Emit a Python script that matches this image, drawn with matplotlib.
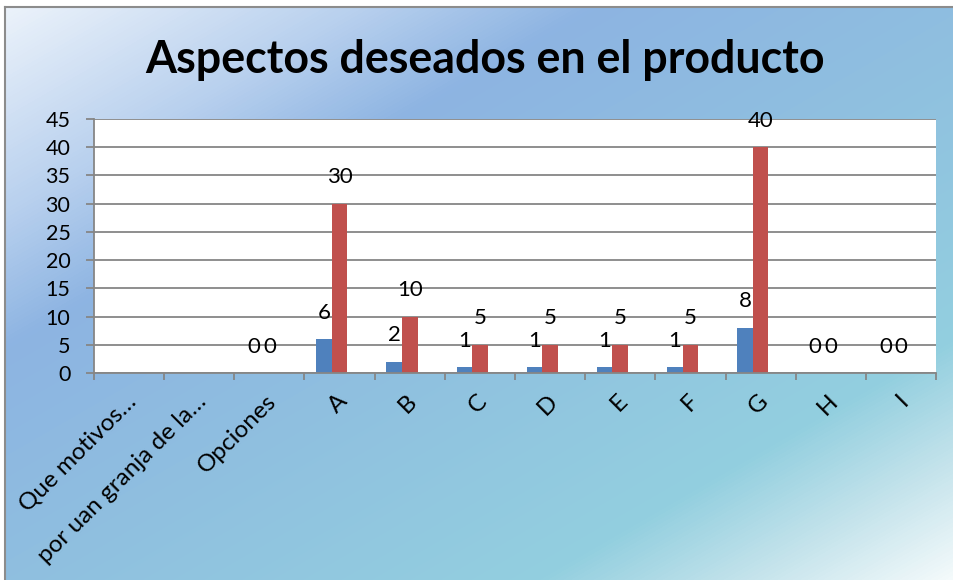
import numpy as np
import matplotlib
matplotlib.use("Agg")
import matplotlib.pyplot as plt
import matplotlib.transforms as mtransforms
from matplotlib.colors import LinearSegmentedColormap

# data (blank cells in the sheet are None)
categories = ["Que motivos…", "por uan granja de la…", "Opciones",
              "A", "B", "C", "D", "E", "F", "G", "H", "I"]
serie_1 = [None, None, 0, 6, 2, 1, 1, 1, 1, 8, 0, 0]
serie_2 = [None, None, 0, 30, 10, 5, 5, 5, 5, 40, 0, 0]
serie_3 = [None] * 12  # empty column, still takes a slot in each group
y_ticks = list(range(0, 50, 5))
title = "Aspectos deseados en el producto"

plt.rcParams['font.family'] = ['Lato', 'DejaVu Sans']

W, H = 954, 580
GRID = '#868686'


def to_array(values):
  """None -> nan so the bar call just skips it."""
  return np.array([np.nan if v is None else v for v in values], dtype=float)


def draw_background(fig):
  """Diagonal gradient fill like the Excel chart area."""
  bg = fig.add_axes([0, 0, 1, 1], zorder=0)
  bg.axis('off')
  cmap = LinearSegmentedColormap.from_list('area', [
    (0.0, '#eef4fb'), (0.19, '#b8d0ee'), (0.31, '#8db4e2'),
    (0.5, '#8fbee0'), (0.79, '#93cfdf'), (0.9, '#c6e4ec'), (1.0, '#f4fafb')])
  yy, xx = np.mgrid[0:H, 0:W]
  d = 0.5 * xx + 0.866 * yy
  img = cmap(d / d.max())
  # white margin outside the chart frame
  img[:7, :, :3] = 1.0
  img[:, :5, :3] = 1.0
  bg.imshow(img, extent=(0, W, H, 0), aspect='auto', interpolation='bilinear')
  bg.plot([5, 5], [H, 7], color='#8c8c8c', lw=1.5)
  bg.plot([5, W], [7, 7], color='#8c8c8c', lw=1.5)
  bg.set_xlim(0, W)
  bg.set_ylim(H, 0)


def plot_chart():
  fig = plt.figure(figsize=(W / 100, H / 100), dpi=100)
  draw_background(fig)

  ax = fig.add_axes([94 / W, 1 - 373 / H, 842 / W, 254 / H], zorder=1)
  ax.set_facecolor('white')

  x = np.arange(len(categories))
  w = 0.221
  series = [(to_array(serie_1), '#4f81bd'),
            (to_array(serie_2), '#c0504d'),
            (to_array(serie_3), '#9bbb59')]
  for k, (vals, color) in enumerate(series):
    pos = x + (k - 1) * w
    ax.bar(pos, vals, width=w, color=color, zorder=2)
    for px, v in zip(pos, vals):
      if np.isnan(v):
        continue
      ax.annotate(str(int(v)), (px, v), xytext=(0, 19), textcoords='offset points',
                  ha='center', va='center', fontsize=16, color='black')

  ax.set_xlim(-0.5, len(categories) - 0.5)
  ax.set_ylim(0, 45)
  ax.set_yticks(y_ticks)
  ax.tick_params(axis='y', labelsize=15.5, length=6, width=1.3, color=GRID, pad=11)

  # tick marks between categories, labels at the centres
  ax.set_xticks(np.arange(-0.5, len(categories), 1))
  ax.set_xticklabels([])
  ax.set_xticks(x, minor=True)
  ax.set_xticklabels(categories, minor=True, rotation=45, ha='right', va='center',
                     rotation_mode='anchor', fontsize=17.5)
  ax.tick_params(axis='x', which='major', length=5, width=1.3, color=GRID)
  ax.tick_params(axis='x', which='minor', length=0, pad=18)
  shift = mtransforms.ScaledTranslation(4 / 100, 0, fig.dpi_scale_trans)
  for lbl in ax.get_xticklabels(minor=True):
    lbl.set_transform(lbl.get_transform() + shift)

  ax.yaxis.grid(True, color=GRID, lw=1.3)
  ax.set_axisbelow(True)
  for side in ('top', 'right'):
    ax.spines[side].set_visible(False)
  for side in ('left', 'bottom'):
    ax.spines[side].set_color(GRID)
    ax.spines[side].set_linewidth(1.3)

  fig.text(485 / W, 1 - 73 / H, title, ha='center', va='baseline',
           fontsize=32.2, fontweight='bold', color='black')

  fig.savefig('out.png', dpi=100)


def main():
  plot_chart()


if __name__ == "__main__":
  main()
